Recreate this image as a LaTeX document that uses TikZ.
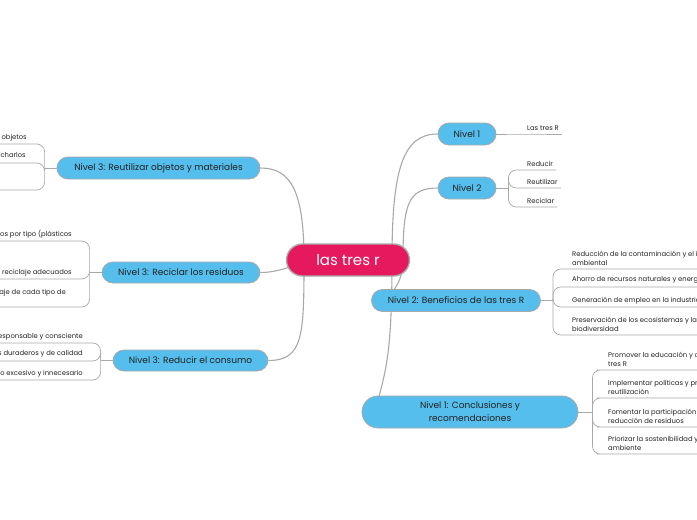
\documentclass[tikz,border=0pt]{standalone}
\usepackage{fontspec}
\setmainfont{Poppins}
\usetikzlibrary{positioning, backgrounds}

\definecolor{rootpink}{HTML}{E6195E}
\definecolor{nodeblue}{HTML}{56BEEC}
\definecolor{edgegray}{HTML}{A8A8A8}
\definecolor{inkdark}{HTML}{222222}

\begin{document}
\begin{tikzpicture}[
    x=1pt, y=-1pt,
    root/.style={
        rectangle,
        rounded corners=16pt,
        draw=edgegray,
        line width=1.4pt,
        fill=rootpink,
        text=white,
        font=\fontsize{15}{18}\selectfont,
        minimum width=123pt,
        minimum height=32pt
    },
    branch/.style={
        rectangle,
        rounded corners=11pt,
        draw=edgegray,
        line width=0.8pt,
        fill=nodeblue,
        text=inkdark,
        inner sep=0pt,
        align=center,
        font=\fontsize{9}{13}\selectfont,
        minimum height=22pt
    },
    leafR/.style={anchor=south west, inner xsep=3pt, inner ysep=3pt, align=left, text=inkdark, font=\fontsize{6.8}{9}\selectfont},
    leafL/.style={anchor=south east, inner xsep=3pt, inner ysep=3pt, align=left, text=inkdark, font=\fontsize{6.8}{9}\selectfont},
    edge/.style={draw=edgegray, line width=1.1pt},
    twig/.style={draw=edgegray, line width=0.7pt, rounded corners=8pt}
]
\useasboundingbox (0,0) rectangle (697,520);

% main topics
\node[root] (c) at (348,260) {las tres r};

\node[branch, minimum width=58pt] (n1) at (467,134) {Nivel 1};
\node[branch, minimum width=58pt] (n2) at (467,188) {Nivel 2};
\node[branch, minimum width=169pt] (nb) at (456,300.5) {Nivel 2: Beneficios de las tres R};
\node[branch, minimum width=216pt, minimum height=32pt, rounded corners=16pt] (nc) at (470,412) {Nivel 1: Conclusiones y\\recomendaciones};

\node[branch, minimum width=203pt] (lr) at (158.5,168) {Nivel 3: Reutilizar objetos y materiales};
\node[branch, minimum width=158pt, minimum height=21pt] (lc) at (181,272.5) {Nivel 3: Reciclar los residuos};
\node[branch, minimum width=155pt, minimum height=21pt] (ld) at (190.5,360.5) {Nivel 3: Reducir el consumo};

\begin{scope}[on background layer]
\draw[edge] ([xshift=44pt]c.center) .. controls +(0,-90) and +(-35,0) .. (n1.west);
\draw[edge] ([xshift=55pt]c.center) .. controls +(0,-55) and +(-30,0) .. (n2.west);
\draw[edge] ([xshift=55pt]c.center) .. controls +(0,25) and +(4,-8) .. ([xshift=-70pt]nb.center);
\draw[edge] ([xshift=44pt]c.center) .. controls +(0,100) and +(10,-40) .. ([xshift=-95pt]nc.center);
\draw[edge] ([xshift=-44pt]c.center) .. controls +(0,-70) and +(30,0) .. (lr.east);
\draw[edge] ([xshift=-20pt]c.center) .. controls +(-30,0) and +(25,0) .. (lc.east);
\draw[edge] ([xshift=-44pt]c.center) .. controls +(0,75) and +(35,0) .. (ld.east);
\end{scope}

% Nivel 1
\node[leafR] (t1) at (524,134) {Las tres R};
\draw[twig] (n1.east) -- (t1.south west) -- (t1.south east);

% Nivel 2
\coordinate[right=12pt of n2] (j2);
\node[leafR] (t2a) at (524,170) {Reducir};
\node[leafR] (t2b) at (524,188) {Reutilizar};
\node[leafR] (t2c) at (524,207) {Reciclar};
\draw[twig] (n2.east) -- (j2);
\foreach \t in {t2a,t2b,t2c}
    \draw[twig] (j2) |- (\t.south west) -- (\t.south east);

% beneficios
\coordinate[right=12pt of nb] (jb);
\node[leafR] (ba) at (569,269) {Reducción de la contaminación y el impacto\\ambiental};
\node[leafR] (bb) at (569,287) {Ahorro de recursos naturales y energía};
\node[leafR] (bc) at (569,307) {Generación de empleo en la industria del reciclaje};
\node[leafR] (bd) at (569,335) {Preservación de los ecosistemas y la\\biodiversidad};
\draw[twig] (nb.east) -- (jb);
\foreach \t in {ba,bb,bc,bd}
    \draw[twig] (jb) |- (\t.south west) -- (\t.south east);

% conclusiones
\coordinate[right=14pt of nc] (jc);
\node[leafR] (ca) at (605,370) {Promover la educación y conciencia sobre las\\tres R};
\node[leafR] (cb) at (605,398) {Implementar políticas y programas de reciclaje y\\reutilización};
\node[leafR] (cc) at (605,427) {Fomentar la participación ciudadana en la\\reducción de residuos};
\node[leafR] (cd) at (605,454) {Priorizar la sostenibilidad y el cuidado del medio\\ambiente};
\draw[twig] (nc.east) -- (jc);
\foreach \t in {ca,cb,cc,cd}
    \draw[twig] (jc) |- (\t.south west) -- (\t.south east);

% reutilizar
\coordinate[left=12pt of lr] (jr);
\node[leafL] (ra) at (30,144) {Reutilizar envases y objetos};
\node[leafL] (rb) at (29,163) {Reparar objetos en lugar de desecharlos};
\coordinate (rc) at (-5,190);
\draw[twig] (lr.west) -- (jr);
\foreach \t in {ra,rb}
    \draw[twig] (jr) |- (\t.south east) -- (\t.south west);
\draw[twig] (jr) |- (rc);

% reciclar
\coordinate[left=12pt of lc] (jl);
\node[leafL] (la) at (75,241) {Separar los residuos por tipo (plásticos};
\node[leafL] (lb) at (75,279) {Utilizar los contenedores de reciclaje adecuados};
\node[leafL] (lcc) at (69,307) {Conocer el proceso de reciclaje de cada tipo de\\residuo};
\draw[twig] (lc.west) -- (jl);
\foreach \t in {la,lb,lcc}
    \draw[twig] (jl) |- (\t.south east) -- (\t.south west);

% reducir
\coordinate[left=12pt of ld] (jd);
\node[leafL] (da) at (86,343) {Practicar un consumo responsable y consciente};
\node[leafL] (db) at (86,361) {Elegir productos duraderos y de calidad};
\node[leafL] (dc) at (86,380) {Evitar el consumo excesivo y innecesario};
\draw[twig] (ld.west) -- (jd);
\foreach \t in {da,db,dc}
    \draw[twig] (jd) |- (\t.south east) -- (\t.south west);

\end{tikzpicture}
\end{document}
